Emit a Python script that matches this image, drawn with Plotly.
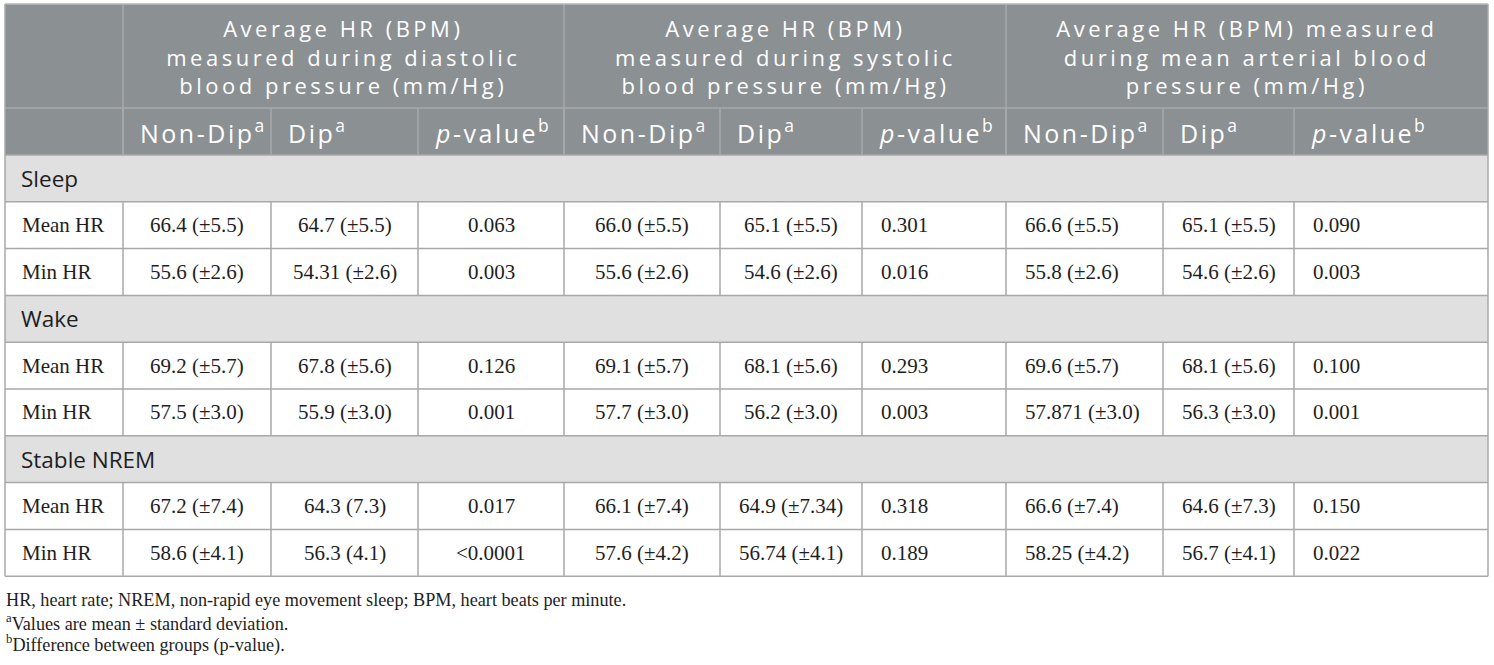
import plotly.graph_objects as go

W, H = 1494, 665

# ---- table content ----
group_titles = [
    "Average HR (BPM)<br>measured during diastolic<br>blood pressure (mm/Hg)",
    "Average HR (BPM)<br>measured during systolic<br>blood pressure (mm/Hg)",
    "Average HR (BPM) measured<br>during mean arterial blood<br>pressure (mm/Hg)",
]
sub_headers = ["Non-Dip<sup>a</sup>", "Dip<sup>a</sup>", "<i>p</i>-value<sup>b</sup>"]
sections = ["Sleep", "Wake", "Stable NREM"]
measures = ["Mean HR", "Min HR"]

# one entry per data row: Sleep mean, Sleep min, Wake mean, Wake min, NREM mean, NREM min
diastolic_non_dip = ["66.4 (±5.5)", "55.6 (±2.6)", "69.2 (±5.7)", "57.5 (±3.0)", "67.2 (±7.4)", "58.6 (±4.1)"]
diastolic_dip = ["64.7 (±5.5)", "54.31 (±2.6)", "67.8 (±5.6)", "55.9 (±3.0)", "64.3 (7.3)", "56.3 (4.1)"]
diastolic_p = ["0.063", "0.003", "0.126", "0.001", "0.017", "<0.0001"]
systolic_non_dip = ["66.0 (±5.5)", "55.6 (±2.6)", "69.1 (±5.7)", "57.7 (±3.0)", "66.1 (±7.4)", "57.6 (±4.2)"]
systolic_dip = ["65.1 (±5.5)", "54.6 (±2.6)", "68.1 (±5.6)", "56.2 (±3.0)", "64.9 (±7.34)", "56.74 (±4.1)"]
systolic_p = ["0.301", "0.016", "0.293", "0.003", "0.318", "0.189"]
map_non_dip = ["66.6 (±5.5)", "55.8 (±2.6)", "69.6 (±5.7)", "57.871 (±3.0)", "66.6 (±7.4)", "58.25 (±4.2)"]
map_dip = ["65.1 (±5.5)", "54.6 (±2.6)", "68.1 (±5.6)", "56.3 (±3.0)", "64.6 (±7.3)", "56.7 (±4.1)"]
map_p = ["0.090", "0.003", "0.100", "0.001", "0.150", "0.022"]

footnotes = [
    "HR, heart rate; NREM, non-rapid eye movement sleep; BPM, heart beats per minute.",
    "<sup>a</sup>Values are mean ± standard deviation.",
    "<sup>b</sup>Difference between groups (p-value).",
]

columns = [diastolic_non_dip, diastolic_dip, diastolic_p,
           systolic_non_dip, systolic_dip, systolic_p,
           map_non_dip, map_dip, map_p]

# ---- grid geometry (pixels) ----
col_edges = [5, 123, 271, 418, 564, 720, 862, 1006, 1163, 1294, 1488]
col_align = ["left", "center", "center", "center", "center", "center", "left", "left", "left", "left"]
head_top, head_mid, head_bot = 4, 108, 155
row_h = 46.8
pad = 16.5

HEAD_BG = "#8b9093"
HEAD_LINE = "#a6aaad"
SECT_BG = "#dfe0df"
GRID = "#a8a8a8"
INK = "#1e1e1e"
SANS = "Open Sans"
SERIF = "Liberation Serif"
SIZES = {"title": 22, "head": 25, "section": 22.5, "body": 21, "note": 18.2}
TITLE_WHITE = "rgb(254, 254, 254)"   # tagged so the page script can track them
HEAD_WHITE = "rgb(255, 255, 255)"

shapes = []
annotations = []


def rect(x0, x1, y0, y1, fill):
    shapes.append(dict(type="rect", xref="x", yref="y", x0=x0, x1=x1, y0=y0, y1=y1,
                       fillcolor=fill, line=dict(width=0), layer="below"))


def line(x0, x1, y0, y1, color=GRID, width=1.5):
    shapes.append(dict(type="line", xref="x", yref="y", x0=x0, x1=x1, y0=y0, y1=y1,
                       line=dict(color=color, width=width)))


def label(s, x, y, anchor, family, size, color):
    annotations.append(dict(x=x, y=y, xref="x", yref="y", text=s.replace("<0", "&lt;0"),
                            showarrow=False, xanchor=anchor, align=anchor, yanchor="middle",
                            font=dict(family=family, size=size, color=color)))


def cell(s, ci, y, family, size, color, align=None, p=pad):
    a = align or col_align[ci]
    if a == "left":
        label(s, col_edges[ci] + p, y, "left", family, size, color)
    else:
        label(s, (col_edges[ci] + col_edges[ci + 1]) / 2, y, "center", family, size, color)


left, right = col_edges[0], col_edges[-1]

# header block
rect(left, right, head_top, head_bot, HEAD_BG)
for gi, title in enumerate(group_titles):
    x0, x1 = col_edges[1 + 3 * gi], col_edges[4 + 3 * gi]
    label(title, (x0 + x1) / 2, (head_top + head_mid) / 2, "center",
          SANS, SIZES["title"], TITLE_WHITE)
    line(x0, x0, head_top, head_bot, HEAD_LINE)
for ci, sh in enumerate(sub_headers * 3):
    cell(sh, ci + 1, (head_mid + head_bot) / 2, SANS, SIZES["head"], HEAD_WHITE, "left", pad - 2)
    line(col_edges[ci + 1], col_edges[ci + 1], head_mid, head_bot, HEAD_LINE)
line(left, right, head_mid, head_mid, HEAD_LINE)

# body
y = head_bot
r = 0
for sec in sections:
    rect(left, right, y, y + row_h, SECT_BG)
    cell(sec, 0, y + row_h / 2, SANS, SIZES["section"], INK, "left", pad - 2.5)
    line(left, right, y, y, GRID)
    y += row_h
    for m in measures:
        line(left, right, y, y, GRID)
        for ce in col_edges[1:-1]:
            line(ce, ce, y, y + row_h, GRID)
        cell(m, 0, y + row_h / 2, SERIF, SIZES["body"], INK, p=pad - 1.5)
        for ci, col in enumerate(columns):
            cell(col[r], ci + 1, y + row_h / 2, SERIF, SIZES["body"], INK)
        y += row_h
        r += 1
line(left, right, y, y, GRID)

# outer frame
line(left, left, head_top, y, GRID)
line(right, right, head_top, y, GRID)
line(left, right, head_top, head_top, "#b5b8ba")

# footnotes
for i, fn in enumerate(footnotes):
    label(fn, left - 1, y + 24 + 22 * i, "left", SERIF, SIZES["note"], INK)

fig = go.Figure()
fig.update_layout(
    width=W, height=H,
    margin=dict(l=0, r=0, t=0, b=0),
    paper_bgcolor="white", plot_bgcolor="white",
    xaxis=dict(range=[0, W], visible=False, fixedrange=True),
    yaxis=dict(range=[H, 0], visible=False, fixedrange=True),
    shapes=shapes, annotations=annotations, showlegend=False,
)

# page has a default 8px body margin; the header face in the source is wide, so track it out
post = """
function tidy() {
  document.body.style.margin = '0';
  document.querySelectorAll('.annotation-text').forEach(function (t) {
    var f = t.style.fill || '';
    if (f.indexOf('254, 254, 254') >= 0) { t.style.letterSpacing = '3.5px'; }
    else if (f.indexOf('255, 255, 255') >= 0) { t.style.letterSpacing = '2.5px'; }
  });
}
tidy(); setTimeout(tidy, 50); setTimeout(tidy, 300);
"""
fig.write_html("out.html", config={"displayModeBar": False}, post_script=post)
